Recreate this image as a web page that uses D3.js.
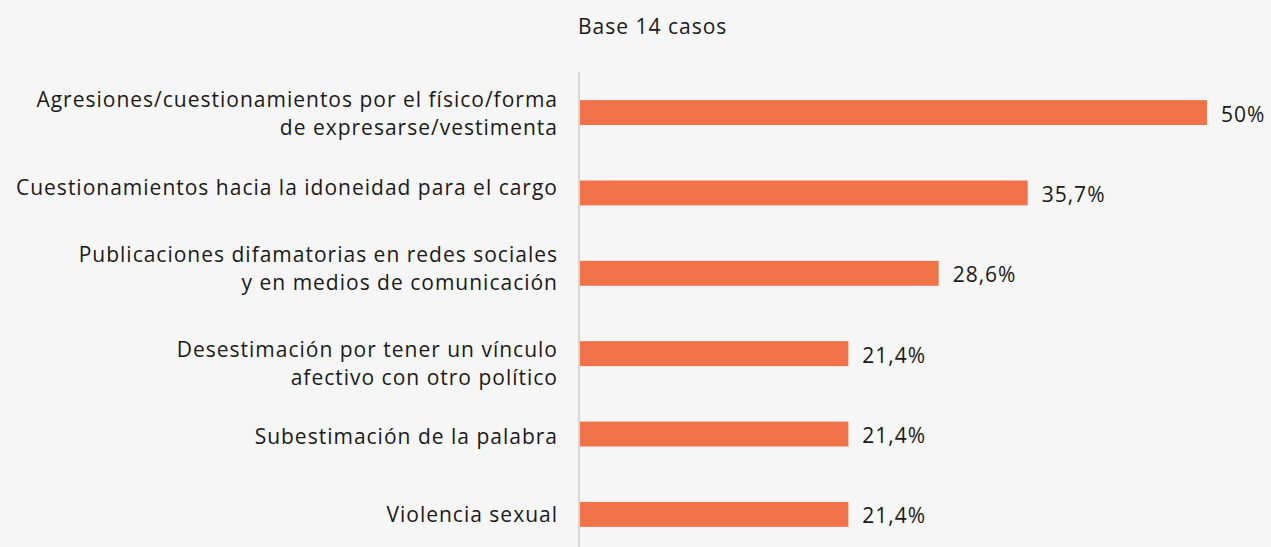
<!DOCTYPE html>
<html>
<head>
<meta charset="utf-8">
<script src="https://cdn.jsdelivr.net/npm/d3@7"></script>
<style>
  html, body { margin: 0; padding: 0; background: #f6f6f6; }
  svg { display: block; font-family: "Open Sans", Lato, sans-serif; letter-spacing: 1px; }
</style>
</head>
<body>
<svg id="chart"></svg>
<script>
const categories = [
    ['Agresiones/cuestionamientos por el físico/forma', 'de expresarse/vestimenta'],
    ['Cuestionamientos hacia la idoneidad para el cargo'],
    ['Publicaciones difamatorias en redes sociales', 'y en medios de comunicación'],
    ['Desestimación por tener un vínculo', 'afectivo con otro político'],
    ['Subestimación de la palabra'],
    ['Violencia sexual']
];
const values = [50, 35.7, 28.6, 21.4, 21.4, 21.4];
const valueLabels = ['50%', '35,7%', '28,6%', '21,4%', '21,4%', '21,4%'];
const subtitle = 'Base 14 casos';

const width = 1271, height = 547;
const margin = {top: 72, right: 64, bottom: 0, left: 580};
const lineHeight = 28;
// the labels in the original sit a little off the bar centres
const labelShift = [-6, 2, -11, 3, 10, 8];

const svg = d3.select('#chart')
    .attr('width', width)
    .attr('height', height);

svg.append('rect')
    .attr('width', width)
    .attr('height', height)
    .attr('fill', '#f6f6f6');

const x = d3.scaleLinear()
    .domain([0, 50])
    .range([margin.left, 1207]);

const y = d3.scaleBand()
    .domain(d3.range(categories.length))
    .range([margin.top, 555])
    .paddingInner(0.69)
    .paddingOuter(0.35);

svg.append('text')
    .attr('x', 578)
    .attr('y', 34)
    .attr('fill', '#1a1a1a')
    .style('font-size', '21px')
    .text(subtitle);

// axis line
svg.append('line')
    .attr('x1', margin.left - 1)
    .attr('x2', margin.left - 1)
    .attr('y1', margin.top)
    .attr('y2', height)
    .attr('stroke', '#d6d6d6')
    .attr('stroke-width', 2);

svg.selectAll('.bar')
    .data(values)
    .join('rect')
    .attr('class', 'bar')
    .attr('x', x(0))
    .attr('y', (d, i) => y(i))
    .attr('width', d => x(d) - x(0))
    .attr('height', y.bandwidth())
    .attr('fill', '#ef7249');

svg.selectAll('.value')
    .data(values)
    .join('text')
    .attr('class', 'value')
    .attr('x', d => x(d) + 14)
    .attr('y', (d, i) => y(i) + y.bandwidth() / 2 + 9)
    .attr('fill', '#1a1a1a')
    .style('font-size', '21px')
    .text((d, i) => valueLabels[i]);

const labels = svg.selectAll('.label')
    .data(categories)
    .join('text')
    .attr('class', 'label')
    .attr('x', 558)
    .attr('y', (d, i) => y(i) + y.bandwidth() / 2 + labelShift[i])
    .attr('text-anchor', 'end')
    .attr('fill', '#1a1a1a')
    .style('font-size', '21px');

labels.selectAll('tspan')
    .data(d => d.map((t, j) => ({t, j})))
    .join('tspan')
    .attr('x', 558)
    .attr('dy', d => d.j === 0 ? 0 : lineHeight)
    .text(d => d.t);
</script>
</body>
</html>
